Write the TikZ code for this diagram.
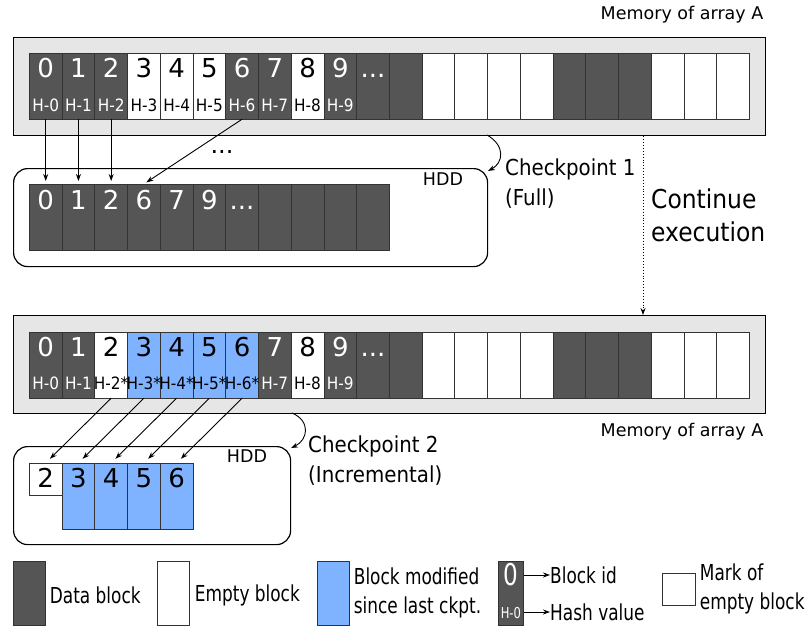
\documentclass[tikz,border=0pt]{standalone}
\usepackage{fontspec}
\setmainfont{DejaVu Sans}
\newfontfamily\narrowfont[FakeStretch=0.9]{DejaVu Sans}
\newfontfamily\legendfont[FakeStretch=0.77]{DejaVu Sans}
\usetikzlibrary{positioning, arrows.meta, calc}

\definecolor{blockgray}{HTML}{555555}
\definecolor{memgray}{HTML}{E6E6E6}
\definecolor{modblue}{HTML}{80B3FF}

\tikzset{
  cell/.style={draw=black!80, line width=0.7pt, inner sep=0pt, anchor=north west,
    minimum width=32.73pt, minimum height=65.5pt},
  celld/.style={cell, fill=blockgray},
  celle/.style={cell, fill=white},
  cellb/.style={cell, fill=modblue},
  idtext/.style={font=\fontsize{26}{26}\selectfont, inner sep=0pt, anchor=base},
  hashtext/.style={font=\narrowfont\fontsize{17}{17}\selectfont, inner sep=0pt, anchor=base},
  membox/.style={draw, line width=1.3pt, fill=memgray, anchor=north west, inner sep=0pt,
    minimum width=752pt, minimum height=98pt},
  hddbox/.style={draw, line width=1.2pt, rounded corners=14pt, anchor=north west,
    inner sep=0pt, minimum height=98pt},
  lbl/.style={font=\fontsize{17.5}{17.5}\selectfont, inner sep=0pt},
  cptext/.style={font=\narrowfont\fontsize{22}{30}\selectfont, align=left, inner sep=0pt,
    anchor=north west},
  legtext/.style={font=\legendfont\fontsize{22}{29}\selectfont, align=left, inner sep=0pt,
    anchor=west},
  copy/.style={-{Stealth[length=7pt,width=5pt]}, line width=0.9pt},
}

\begin{document}
\begin{tikzpicture}[x=1pt, y=-1pt]
  \useasboundingbox (0,0) rectangle (808,626);

  % Memory before checkpoint 1
  \node[membox] (mem1) at (13,37) {};
  \foreach \c [count=\i from 0] in {d,d,d,e,e,e,d,d,e,d,d,d,e,e,e,e,d,d,d,e,e,e}
    \node[cell\c] (mema\i) at ({29+\i*32.73},53) {};
  \foreach \i/\tc in {0/white,1/white,2/white,3/black,4/black,5/black,6/white,7/white,8/black,9/white} {
    \node[idtext, text=\tc] (memna\i) at ([yshift=-24.5pt]mema\i.north) {\i};
    \node[hashtext, text=\tc] (memha\i) at ([yshift=-58.5pt]mema\i.north) {H-\i};
  }
  \node[idtext, text=white] (memna10) at ([yshift=-24.5pt]mema10.north) {...};
  \node[lbl] (memlbla) at (682,15) {Memory of array A};

  % Checkpoint 1 on disk
  \node[hddbox, minimum width=474pt] (hdd1) at (13,168) {};
  \foreach \i in {0,...,10}
    \node[celld] (hdda\i) at ({29+\i*32.73},184) {};
  \foreach \n [count=\i from 0] in {0,1,2,6,7,9}
    \node[idtext, text=white] (hddna\i) at ([yshift=-25pt]hdda\i.north) {\n};
  \node[idtext, text=white] (hddna6) at ([yshift=-25pt]hdda6.north) {...};
  \node[lbl] (hddlbla) at (443,179) {HDD};

  % Full copy
  \foreach \i/\j in {0/0,1/1,2/2,6/3}
    \draw[copy, shorten >=3pt] (mema\i.south) -- (hdda\j.north);
  \node[idtext, font=\fontsize{24}{24}\selectfont] (dotsa) at (222,153) {...};

  \coordinate (cpa1) at (487,135);
  \coordinate (cpa2) at (488,171);
  \draw[copy] (cpa1) .. controls (506,146) and (503,163) .. (cpa2);
  \node[cptext] (cplbla) at (505,159) {Checkpoint 1\\(Full)};

  % Continue execution
  \coordinate (run) at (643,0);
  \node[membox] (mem2) at (13,315) {};
  \draw[copy, dotted] (mem1.south -| run) -- (mem2.north -| run);
  \node[cptext, font=\narrowfont\fontsize{26}{33}\selectfont] (runlbl) at (651,189) {Continue\\execution};

  % Memory before checkpoint 2
  \foreach \c [count=\i from 0] in {d,d,e,b,b,b,b,d,e,d,d,d,e,e,e,e,d,d,d,e,e,e}
    \node[cell\c] (memb\i) at ({29+\i*32.73},332) {};
  \foreach \i/\tc/\hs in {0/white/H-0,1/white/H-1,2/black/H-2*,3/black/H-3*,4/black/H-4*,
      5/black/H-5*,6/black/H-6*,7/white/H-7,8/black/H-8,9/white/H-9} {
    \node[idtext, text=\tc] (memnb\i) at ([yshift=-24.5pt]memb\i.north) {\i};
    \node[hashtext, text=\tc] (memhb\i) at ([yshift=-57.5pt]memb\i.north) {\hs};
  }
  \node[idtext, text=white] (memnb10) at ([yshift=-24.5pt]memb10.north) {...};
  \node[lbl] (memlblb) at (682,432) {Memory of array A};

  % Checkpoint 2 on disk
  \node[hddbox, minimum width=277pt] (hdd2) at (13,446) {};
  \node[celle, minimum height=32pt] (hddb0) at (29,463) {};
  \foreach \i in {1,...,4}
    \node[cellb] (hddb\i) at ({29+\i*32.73},463) {};
  \foreach \n [count=\i from 0] in {2,3,4,5,6}
    \node[idtext] (hddnb\i) at ([yshift=-24pt]hddb\i.north) {\n};
  \node[lbl] (hddlblb) at (247,456) {HDD};

  % Incremental copy
  \foreach \i [count=\j from 0] in {2,...,6}
    \draw[copy, shorten >=6pt] (memb\i.south) -- (hddb\j.north);

  \coordinate (cpb1) at (292,413);
  \coordinate (cpb2) at (291,448);
  \draw[copy] (cpb1) .. controls (311,421) and (308,440) .. (cpb2);
  \node[cptext] (cplblb) at (308,436) {Checkpoint 2\\(Incremental)};

  % Legend
  \node[celld, minimum width=32pt, minimum height=64pt] (lgdata) at (13,561) {};
  \node[legtext, right=4pt of lgdata, yshift=-2pt] (lgdatat) {Data block};
  \node[celle, minimum width=32pt, minimum height=64pt] (lgempty) at (157,561) {};
  \node[legtext, right=5pt of lgempty, yshift=-2pt] (lgemptyt) {Empty block};
  \node[cellb, minimum width=32pt, minimum height=64pt] (lgmod) at (317,561) {};
  \node[legtext, right=4pt of lgmod] (lgmodt) {Block modified\\since last ckpt.};

  \node[celld, minimum width=25pt, minimum height=64pt] (lgid) at (498,561) {};
  \node[inner sep=0pt, anchor=base, text=white, font=\legendfont\fontsize{30}{30}\selectfont]
    (lgidn) at ([yshift=-24pt]lgid.north) {0};
  \node[inner sep=0pt, anchor=base, text=white, font=\legendfont\fontsize{15}{15}\selectfont]
    (lgidh) at ([yshift=-57pt]lgid.north) {H-0};
  \node[legtext] (lgidt) at (550,575) {Block id};
  \node[legtext] (lghasht) at (550,612) {Hash value};
  \draw[copy, -{Stealth[length=7pt,width=5pt]}] (lgid.east |- lgidt.west) -- (lgidt.west);
  \draw[copy, -{Stealth[length=7pt,width=5pt]}] (lgid.east |- lghasht.west) -- (lghasht.west);

  \node[draw=black!80, line width=0.7pt, inner sep=0pt, anchor=north west,
    minimum width=33pt, minimum height=32pt] (lgmark) at (662,573) {};
  \node[legtext, right=4pt of lgmark] (lgmarkt) {Mark of\\empty block};
\end{tikzpicture}
\end{document}
